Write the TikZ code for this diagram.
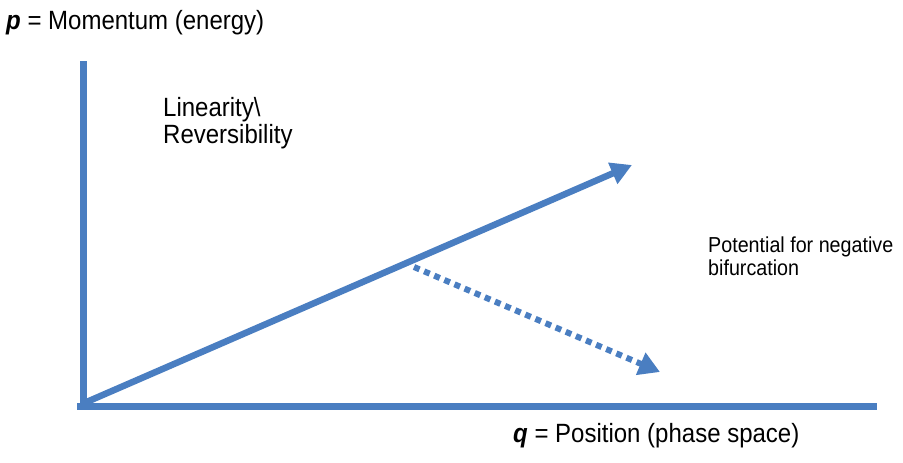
\documentclass[tikz,border=0pt]{standalone}
\usepackage{fontspec}
\setmainfont{Liberation Sans}
\usetikzlibrary{arrows.meta}
\definecolor{axisblue}{RGB}{74,126,193}
\newcommand{\tallt}[1]{\scalebox{1}[1.1]{#1}}
\tikzset{
  axisline/.style={draw=axisblue, line width=6.5pt},
  mainarrow/.style={draw=axisblue, line width=6.5pt, -{Triangle[length=21pt,width=22pt]}},
  dotarrow/.style={draw=axisblue, line width=6pt, dash pattern=on 6pt off 5pt, -{Triangle[length=21pt,width=23pt]}},
  lbl/.style={inner sep=0pt, anchor=base west, font=\fontsize{24pt}{27pt}\selectfont, align=left},
  smalllbl/.style={inner sep=0pt, anchor=base west, font=\fontsize{19.7pt}{23pt}\selectfont, align=left}
}
\begin{document}
\begin{tikzpicture}[x=1pt,y=-1pt]
\useasboundingbox (0,0) rectangle (903,463);
\coordinate (ytop) at (83.5,61);
\coordinate (ybot) at (83.5,409.5);
\coordinate (xleft) at (77,406.5);
\coordinate (xright) at (877,406.5);
\coordinate (O) at (82,404);
\coordinate (mainend) at (632,165);
\coordinate (branch) at (414,267);
\coordinate (dotend) at (660,372);
\draw[axisline] (ytop) -- (ybot);
\draw[axisline] (xleft) -- (xright);
\draw[mainarrow] (O) -- (mainend);
\draw[dotarrow] (branch) -- (dotend);
\node[lbl] (plabel) at (6,30) {\tallt{\textbf{\textit{p}} = Momentum (energy)}};
\node[lbl] (linlabel) at (163,116) {\tallt{Linearity\textbackslash}};
\node[lbl] (revlabel) at (163,143) {\tallt{Reversibility}};
\node[smalllbl] (potlabel) at (708,252) {\tallt{Potential for negative}};
\node[smalllbl] (biflabel) at (708,275) {\tallt{bifurcation}};
\node[lbl] (qlabel) at (513,442) {\tallt{\textbf{\textit{q}} = Position (phase space)}};
\end{tikzpicture}
\end{document}
